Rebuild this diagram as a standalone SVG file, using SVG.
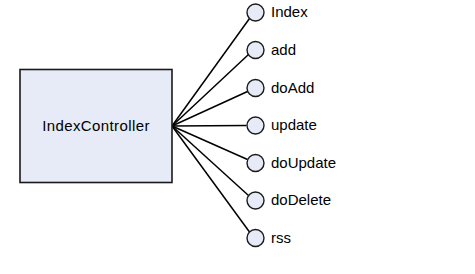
<svg xmlns="http://www.w3.org/2000/svg" width="475" height="274" viewBox="0 0 475 274">
  <style>
    .box { fill: #e6ebf7; stroke: #1a1a1a; stroke-width: 1.6; }
    .port { fill: #e6ebf7; stroke: #1a1a1a; stroke-width: 1.4; }
    .link { stroke: #000; stroke-width: 1.5; fill: none; }
    .label { font-family: "Liberation Sans", Arial, sans-serif; font-size: 15px; fill: #000; }
  </style>
  <rect width="475" height="274" fill="#fff"/>
  <g id="connectors">
    <line class="link" x1="172" y1="126" x2="249.5" y2="18.5"/>
    <line class="link" x1="172" y1="126" x2="248.5" y2="54.5"/>
    <line class="link" x1="172" y1="126" x2="247.5" y2="91.5"/>
    <line class="link" x1="172" y1="126" x2="246.5" y2="125.5"/>
    <line class="link" x1="172" y1="126" x2="247.5" y2="159.5"/>
    <line class="link" x1="172" y1="126" x2="248.5" y2="195.5"/>
    <line class="link" x1="172" y1="126" x2="249.5" y2="232"/>
  </g>
  <g id="IndexController">
    <rect class="box" x="20" y="69.5" width="152" height="113"/>
    <text class="label" x="96" y="130.5" text-anchor="middle" letter-spacing="0.4">IndexController</text>
  </g>
  <g id="Index">
    <circle class="port" cx="255.5" cy="12.5" r="8.5"/>
    <text class="label" x="271" y="17">Index</text>
  </g>
  <g id="add">
    <circle class="port" cx="255.5" cy="50" r="8.5"/>
    <text class="label" x="271" y="54.5">add</text>
  </g>
  <g id="doAdd">
    <circle class="port" cx="255.5" cy="88" r="8.5"/>
    <text class="label" x="271" y="92.5">doAdd</text>
  </g>
  <g id="update">
    <circle class="port" cx="255.5" cy="125.5" r="8.5"/>
    <text class="label" x="271" y="130">update</text>
  </g>
  <g id="doUpdate">
    <circle class="port" cx="255.5" cy="163" r="8.5"/>
    <text class="label" x="271" y="167.5">doUpdate</text>
  </g>
  <g id="doDelete">
    <circle class="port" cx="255.5" cy="200.5" r="8.5"/>
    <text class="label" x="271" y="205">doDelete</text>
  </g>
  <g id="rss">
    <circle class="port" cx="255.5" cy="238" r="8.5"/>
    <text class="label" x="271" y="242.5">rss</text>
  </g>
</svg>
